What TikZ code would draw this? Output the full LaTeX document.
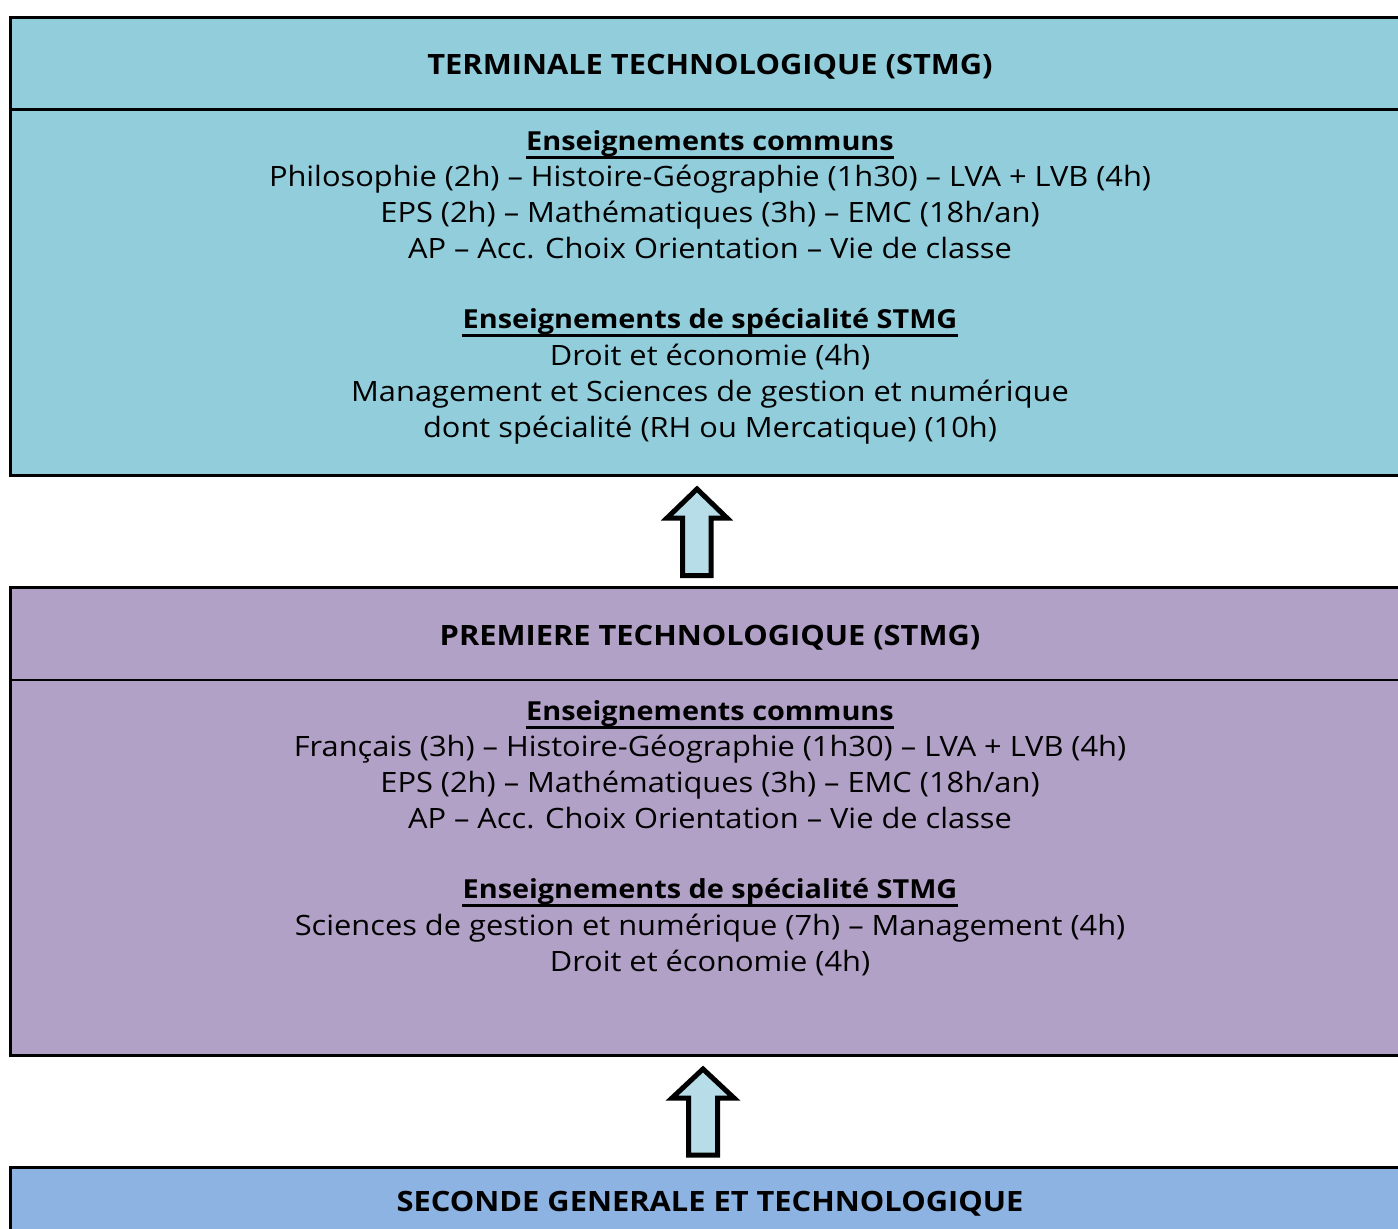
\documentclass[tikz,border=0pt]{standalone}
\usepackage{fontspec}
\setmainfont[FakeStretch=1.1]{Open Sans}
\definecolor{termc}{HTML}{92CDDC}
\definecolor{premc}{HTML}{B2A1C7}
\definecolor{secc}{HTML}{8DB3E2}
\definecolor{arrc}{HTML}{B7DDE8}
\begin{document}
\begin{tikzpicture}[x=0.5pt,y=-0.5pt,
  box/.style={draw=black,line width=1.5pt},
  sepline/.style={line width=1.2pt},
  txt/.style={inner sep=0pt,anchor=base,font=\fontsize{14}{16}\selectfont},
  head/.style={txt,font=\fontsize{14}{16}\selectfont\bfseries},
  ulhead/.style={txt,font=\fontsize{13.1}{16}\selectfont\bfseries},
  blockarrow/.style={draw=black,fill=arrc,line width=2.5pt,line join=miter}]
\useasboundingbox (0,0) rectangle (1398,1228);
\clip (0,0) rectangle (1398,1228);
% boxes
\draw[box,fill=termc] (10.5,17.5) rectangle (1430,475);
\draw[sepline] (10.5,109.5) -- (1430,109.5);
\draw[box,fill=premc] (10.5,587) rectangle (1430,1055);
\draw[sepline] (10.5,680) -- (1430,680);
\draw[box,fill=secc] (10.5,1167.5) rectangle (1430,1260);
% terminale
\node[head] (t0) at (710,74) {TERMINALE TECHNOLOGIQUE (STMG)};
\node[ulhead] (t1) at (710,150) {Enseignements communs};
\node[txt] (t2) at (710,186.5) {Philosophie (2h) – Histoire-Géographie (1h30) – LVA + LVB (4h)};
\node[txt] (t3) at (710,222) {EPS (2h) – Mathématiques (3h) – EMC (18h/an)};
\node[txt] (t4) at (710,258) {AP – Acc. Choix Orientation – Vie de classe};
\node[ulhead] (t5) at (710,328.5) {Enseignements de spécialité STMG};
\node[txt] (t6) at (710,365) {Droit et économie (4h)};
\node[txt] (t7) at (710,401) {Management et Sciences de gestion et numérique};
\node[txt] (t8) at (710,437) {dont spécialité (RH ou Mercatique) (10h)};
% premiere
\node[head] (p0) at (710,645) {PREMIERE TECHNOLOGIQUE (STMG)};
\node[ulhead] (p1) at (710,720.5) {Enseignements communs};
\node[txt] (p2) at (710,756) {Français (3h) – Histoire-Géographie (1h30) – LVA + LVB (4h)};
\node[txt] (p3) at (710,792) {EPS (2h) – Mathématiques (3h) – EMC (18h/an)};
\node[txt] (p4) at (710,828) {AP – Acc. Choix Orientation – Vie de classe};
\node[ulhead] (p5) at (710,898.5) {Enseignements de spécialité STMG};
\node[txt] (p6) at (710,935) {Sciences de gestion et numérique (7h) – Management (4h)};
\node[txt] (p7) at (710,971) {Droit et économie (4h)};
% seconde
\node[head] (s0) at (710,1211) {SECONDE GENERALE ET TECHNOLOGIQUE};
% underlines
\foreach \n in {t1,t5,p1,p5}{
  \draw[line width=1.4pt] ([yshift=-3.6pt]\n.base west) -- ([yshift=-3.6pt]\n.base east);
}
% arrows
\draw[blockarrow] (682.5,575.5) -- (682.5,518) -- (667,518) -- (697,489) -- (727,518) -- (711,518) -- (711,575.5) -- cycle;
\draw[blockarrow] (688.5,1155) -- (688.5,1098) -- (672,1098) -- (703,1069) -- (734,1098) -- (717.5,1098) -- (717.5,1155) -- cycle;
\end{tikzpicture}
\end{document}
